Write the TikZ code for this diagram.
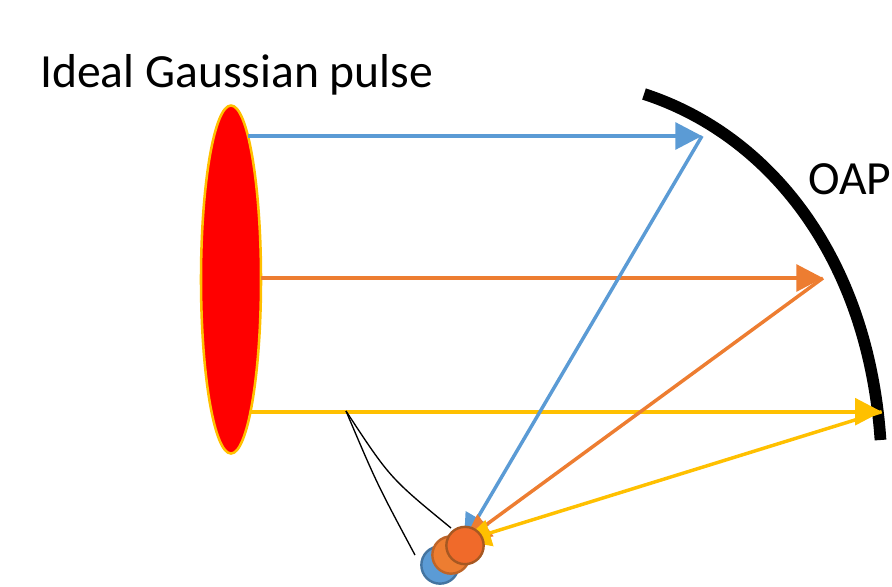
\documentclass[tikz,border=0pt]{standalone}
\usepackage{fontspec}
\setmainfont{Carlito}
\usetikzlibrary{arrows.meta,shapes.geometric}
\definecolor{rayblue}{HTML}{5B9BD5}
\definecolor{rayorange}{HTML}{ED7D31}
\definecolor{rayyellow}{HTML}{FFC000}
\tikzset{
ray/.style={line width=3pt,-{Triangle[length=20pt,width=20pt]}},
back/.style={ray,line width=2.6pt},
spot/.style={circle,minimum size=28pt,inner sep=0pt,line width=1.8pt},
label/.style={anchor=base west,inner sep=0pt,font=\fontsize{35.7}{36}\selectfont}
}
\begin{document}
\begin{tikzpicture}[x=.75pt,y=-.75pt]
\useasboundingbox(0,0)rectangle(892,586);
\draw[line width=8.8pt](644,94)..controls(770,135)and(868,258)..(880.5,440);
\node[label](title)at(40,87){Ideal Gaussian pulse};
\node[label](oap)at(808,194){OAP};
\node[ellipse,draw=rayyellow,fill=red,line width=1.9pt,minimum width=45pt,minimum height=261pt,inner sep=0pt](pulse)at(231,279.5){};
\coordinate(startb)at(248,136);\coordinate(starto)at(261,278);\coordinate(starty)at(251,411.7);
\coordinate(hitb)at(702,136);\coordinate(hito)at(823,278);\coordinate(hity)at(881.7,411.7);
\coordinate(focus)at(464,541);\coordinate(zoomtip)at(346,411);
\coordinate(zoomlow)at(415,555);\coordinate(zoomup)at(451,528);
\draw[ray,rayblue](startb)--(hitb);
\draw[ray,rayorange](starto)--(hito);
\draw[ray,rayyellow](starty)--(hity);
\draw[back,rayblue](hitb)--(focus);
\draw[back,rayorange](hito)--(focus);
\draw[back,rayyellow](hity)--(focus);
\draw[line width=1pt](zoomtip)..controls(377,484)..(zoomlow);
\draw[line width=1pt](zoomtip)..controls(390,478)..(zoomup);
\node[spot,fill=rayblue,draw=rayblue!75!black](spota)at(440,565){};
\node[spot,fill=rayorange,draw=rayorange!80!black](spotb)at(451,555){};
\node[spot,fill=rayorange!85!red,draw=rayorange!70!black](spotc)at(465,545.5){};
\end{tikzpicture}
\end{document}
